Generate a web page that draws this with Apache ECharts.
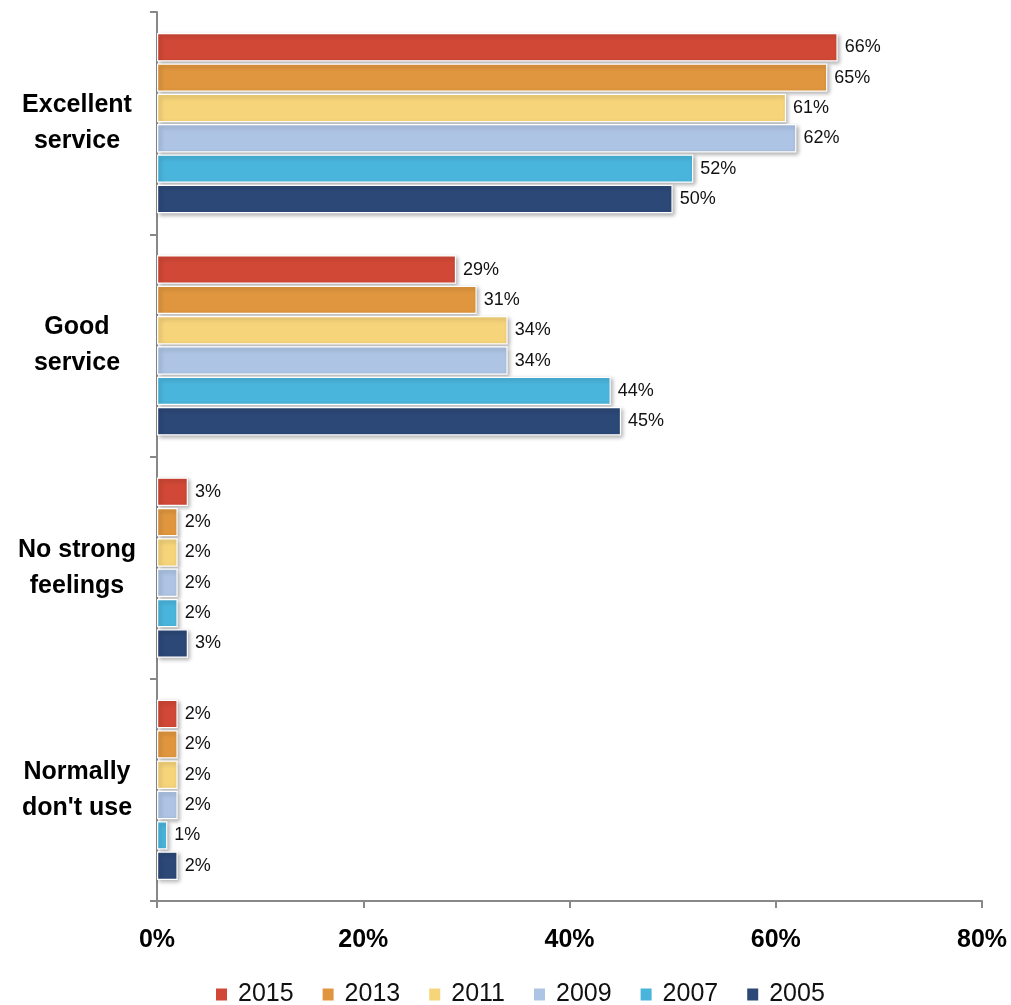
<!DOCTYPE html>
<html>
<head>
<meta charset="utf-8">
<script src="https://cdn.jsdelivr.net/npm/echarts@6/dist/echarts.min.js"></script>
<style>
  html, body { margin: 0; padding: 0; background: #fff; }
  #chart { width: 1011px; height: 1005px; }
</style>
</head>
<body>
<div id="chart"></div>
<script>
// Survey responses by year (percent)
const categories = ['Excellent\nservice', 'Good\nservice', 'No strong\nfeelings', "Normally\ndon't use"];
const years = ['2015', '2013', '2011', '2009', '2007', '2005'];
const v2015 = [66, 29, 3, 2];
const v2013 = [65, 31, 2, 2];
const v2011 = [61, 34, 2, 2];
const v2009 = [62, 34, 2, 2];
const v2007 = [52, 44, 2, 1];
const v2005 = [50, 45, 3, 2];
const xTicks = [0, 20, 40, 60, 80];

const values = [v2015, v2013, v2011, v2009, v2007, v2005];
const colors = ['#D14836', '#E0963E', '#F6D47A', '#AEC4E5', '#4AB5DC', '#2C4877'];
const fontFamily = '"Liberation Sans", Arial, sans-serif';

const chart = echarts.init(document.getElementById('chart'));

const series = years.map((y, i) => ({
  name: y,
  type: 'bar',
  data: values[i],
  barGap: '7%',
  barCategoryGap: '19%',
  itemStyle: {
    color: colors[i],
    borderColor: '#ffffff',
    borderWidth: 1.2,
    shadowColor: 'rgba(0,0,0,0.3)',
    shadowBlur: 4,
    shadowOffsetX: 2,
    shadowOffsetY: 2
  },
  label: {
    show: true,
    position: 'right',
    distance: 7,
    formatter: '{c}%',
    color: '#111',
    fontSize: 18,
    fontFamily: fontFamily
  }
}));

chart.setOption({
  animation: false,
  color: colors,
  grid: { left: 157, right: 29, top: 12, bottom: 104, containLabel: false },
  legend: {
    data: years,
    top: 977,
    left: 209,
    icon: 'rect',
    itemWidth: 13,
    itemHeight: 14,
    itemGap: 27,
    textStyle: { fontSize: 25, color: '#111', fontFamily: fontFamily, padding: [0, 0, 0, 5] }
  },
  xAxis: {
    type: 'value',
    min: xTicks[0],
    max: xTicks[xTicks.length - 1],
    interval: 20,
    axisLine: { show: true, lineStyle: { color: '#888', width: 2 } },
    axisTick: { show: true, length: 7, lineStyle: { color: '#888', width: 2 } },
    splitLine: { show: false },
    axisLabel: {
      formatter: '{value}%',
      margin: 27,
      fontSize: 25,
      fontWeight: 'bold',
      color: '#000',
      fontFamily: fontFamily
    }
  },
  yAxis: {
    type: 'category',
    data: categories,
    inverse: true,
    axisLine: { show: true, lineStyle: { color: '#888', width: 2 } },
    axisTick: { show: true, length: 7, lineStyle: { color: '#888', width: 2 } },
    axisLabel: {
      align: 'center',
      margin: 80,
      fontSize: 25,
      lineHeight: 36,
      fontWeight: 'bold',
      color: '#000',
      fontFamily: fontFamily
    }
  },
  series: series
});
</script>
</body>
</html>
